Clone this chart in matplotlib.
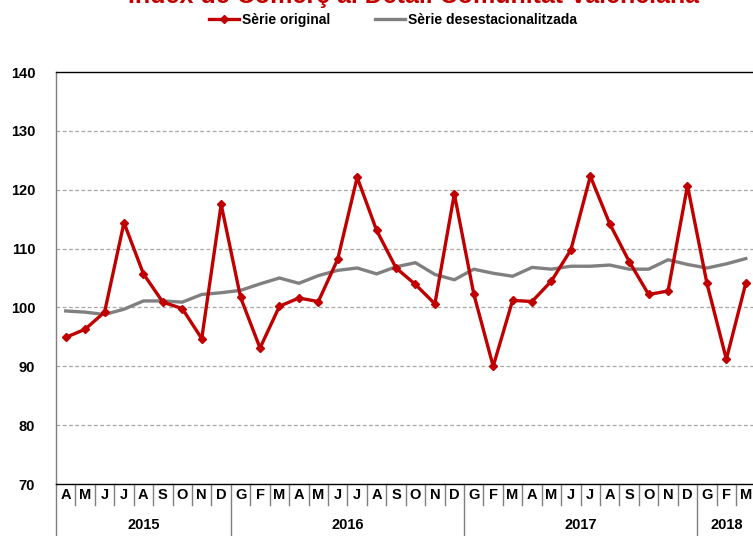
import numpy as np
import matplotlib
matplotlib.use("Agg")
import matplotlib.pyplot as plt
from matplotlib.lines import Line2D

plt.rcParams['font.family'] = ['Liberation Sans', 'DejaVu Sans']

# Dades: abril 2015 - març 2018
mesos = ['A', 'M', 'J', 'J', 'A', 'S', 'O', 'N', 'D',
         'G', 'F', 'M', 'A', 'M', 'J', 'J', 'A', 'S', 'O', 'N', 'D',
         'G', 'F', 'M', 'A', 'M', 'J', 'J', 'A', 'S', 'O', 'N', 'D',
         'G', 'F', 'M']
anys = ['2015', '2016', '2017', '2018']
mesos_per_any = [9, 12, 12, 3]

serie_original = [94.9, 96.3, 99.2, 114.4, 105.7, 100.9, 99.8, 94.7, 117.5,
                  101.7, 93.1, 100.2, 101.6, 101.0, 108.2, 122.1, 113.1, 106.7, 103.9, 100.6, 119.3,
                  102.3, 90.0, 101.2, 101.0, 104.5, 109.8, 122.3, 114.2, 107.8, 102.2, 102.8, 120.7,
                  104.1, 91.2, 104.1]
serie_desest = [99.4, 99.2, 98.8, 99.7, 101.1, 101.1, 100.9, 102.2, 102.5,
                102.9, 104.0, 105.0, 104.1, 105.4, 106.3, 106.7, 105.7, 106.9, 107.6, 105.6, 104.7,
                106.5, 105.8, 105.3, 106.8, 106.5, 107.0, 107.0, 107.2, 106.5, 106.5, 108.1, 107.3,
                106.7, 107.4, 108.3]

vermell = '#C00000'
gris = '#808080'

fig = plt.figure(figsize=(7.53, 5.36), dpi=100)
ax = fig.add_axes([56 / 753, 52 / 536, 699.5 / 753, 412 / 536])

x = np.arange(len(mesos))
ax.plot(x, serie_desest, color=gris, lw=2.4, zorder=3)
ax.plot(x, serie_original, color=vermell, lw=2.4, marker='D', markersize=4.5, zorder=4)

ax.set_xlim(-0.5, len(mesos) - 0.5)
ax.set_ylim(70, 140)
ax.set_yticks(range(70, 141, 10))
ax.tick_params(axis='y', length=0, pad=15, labelsize=10.5)
for lab in ax.get_yticklabels():
    lab.set_fontweight('bold')

for v in range(80, 140, 10):
    ax.axhline(v, color='#A6A6A6', lw=0.9, ls=(0, (3, 2)), zorder=1)

ax.spines['right'].set_visible(False)
ax.spines['top'].set_color('black')
ax.spines['top'].set_linewidth(1.0)
ax.spines['bottom'].set_color('black')
ax.spines['bottom'].set_linewidth(1.0)
ax.spines['left'].set_color('#7F7F7F')
ax.spines['left'].set_linewidth(1.0)

# eix x amb mesos i anys
ax.set_xticks([])
trans = ax.get_xaxis_transform()
for i, m in enumerate(mesos):
    ax.text(i, -0.027, m, transform=trans, ha='center', va='center',
            fontsize=10.5, fontweight='bold')
limits = np.cumsum([0] + mesos_per_any)
for i in range(len(mesos) + 1):
    llarg = 0.126 if i in limits else 0.051
    ax.plot([i - 0.5, i - 0.5], [0, -llarg], transform=trans, color='#7F7F7F',
            lw=1.0, clip_on=False)
for a, ini, n in zip(anys, limits[:-1], mesos_per_any):
    ax.text(ini + (n - 1) / 2, -0.1, a, transform=trans, ha='center', va='center',
            fontsize=10.5, fontweight='bold')

# títol (tallat a la part superior, com a l'original)
fig.text(414 / 753, 1 - 3 / 536, 'Índex de Comerç al Detall Comunitat Valenciana',
         ha='center', va='baseline', color=vermell, fontsize=18, fontweight='bold')

handles = [Line2D([], [], color=vermell, lw=2.4, marker='D', markersize=4.5),
           Line2D([], [], color=gris, lw=2.4)]
fig.legend(handles, ['Sèrie original', 'Sèrie desestacionalitzada'],
           loc='center', bbox_to_anchor=(393 / 753, 1 - 20 / 536), ncol=2,
           frameon=False, prop={'weight': 'bold', 'size': 10},
           handlelength=2.2, handletextpad=0.2, columnspacing=3.2)

fig.savefig('out.png', dpi=100)
